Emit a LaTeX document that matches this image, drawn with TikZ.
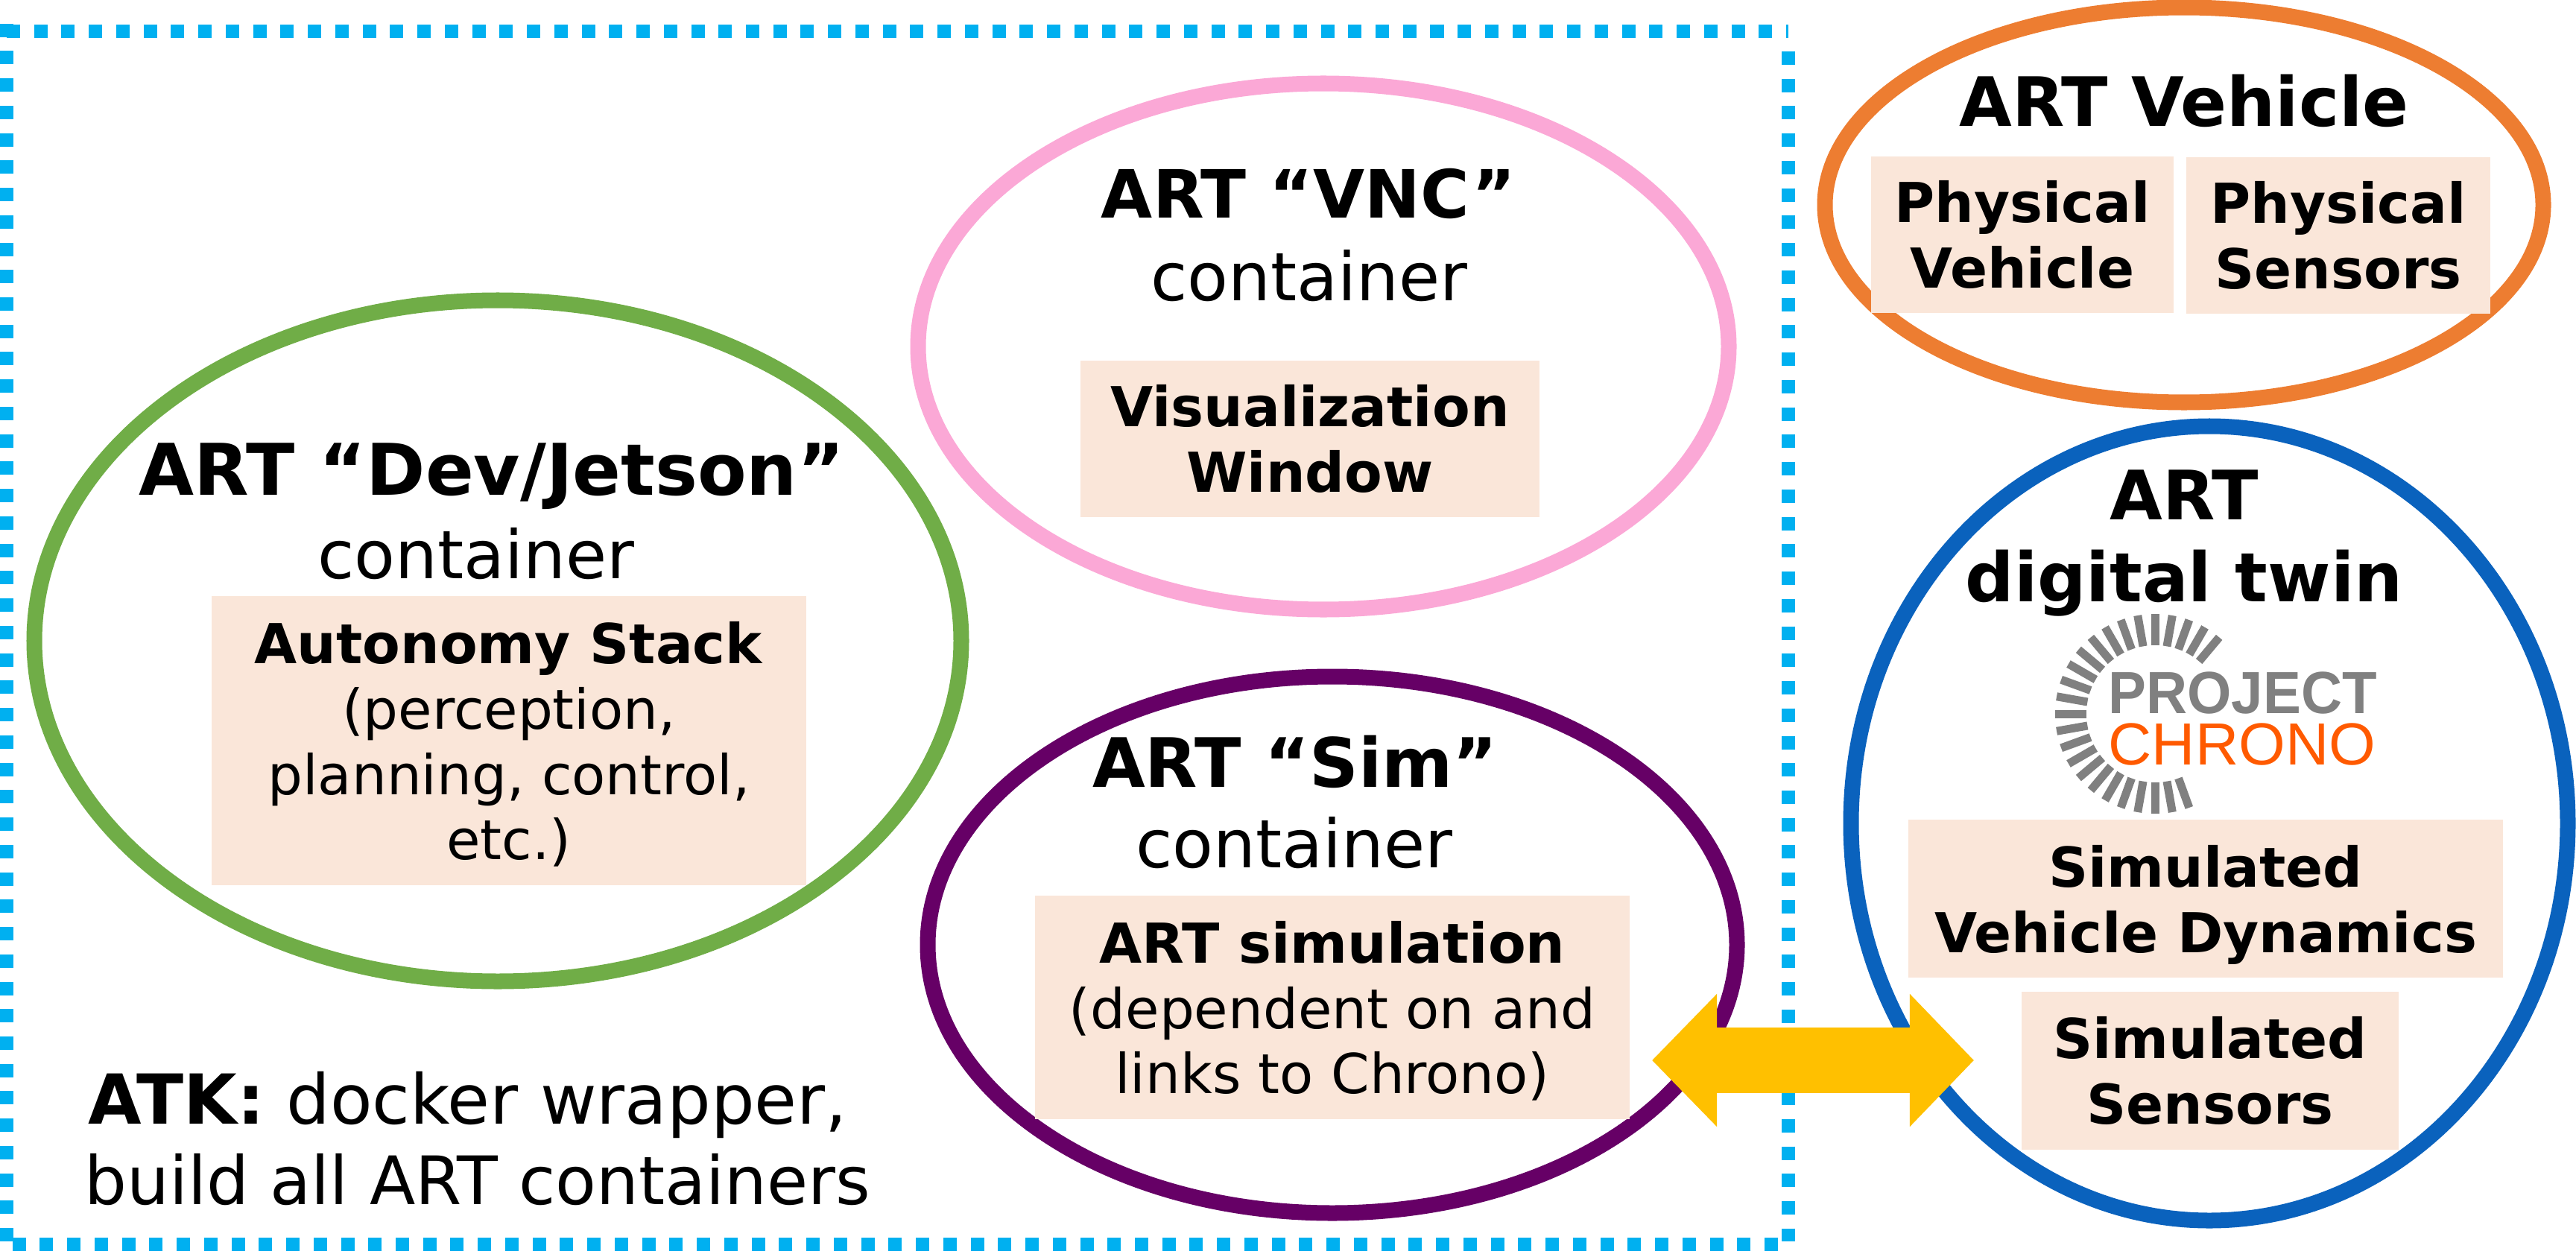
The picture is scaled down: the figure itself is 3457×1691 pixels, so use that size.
\documentclass[tikz,border=0pt]{standalone}
\usepackage{fontspec}
\setmainfont{DejaVu Sans}
\newfontfamily\logofont{Liberation Sans}
\usepackage{tikz}
\usetikzlibrary{calc,arrows.meta}
\definecolor{ringgreen}{HTML}{70AD47}
\definecolor{ringpink}{HTML}{FBA8D6}
\definecolor{ringpurple}{HTML}{660066}
\definecolor{ringorange}{HTML}{ED7D31}
\definecolor{ringblue}{HTML}{0A62BD}
\definecolor{dotblue}{HTML}{00B0F0}
\definecolor{boxpeach}{HTML}{FAE6D9}
\definecolor{arrowgold}{HTML}{FFC000}
\definecolor{logogray}{HTML}{808080}
\definecolor{logoorange}{HTML}{FF5A00}

\begin{document}
\begin{tikzpicture}[x=0.01cm, y=-0.01cm,
    ring/.style={line width=0.21cm},
    atkdots/.style={dotblue, line width=0.18cm, dash pattern=on 0.18cm off 0.1872cm},
    stackbox/.style={fill=boxpeach, inner sep=0pt, align=center, font=\fontsize{21}{25}\selectfont},
    heading/.style={anchor=base, inner sep=0pt, font=\fontsize{26}{31}\bfseries},
    plain/.style={anchor=base, inner sep=0pt, font=\fontsize{25.5}{31}\selectfont},
    logotext/.style={anchor=base west, inner sep=0pt, text depth=0pt, text height=16pt, transform shape}]
    \useasboundingbox (0,0) rectangle (3457,1691);
    \coordinate (Cdev) at (668,860);
    \coordinate (Cvnc) at (1776,465);
    \coordinate (Csim) at (1788,1268);
    \coordinate (Cveh) at (2931,275);
    \coordinate (Ctwin) at (2965,1105);
    \coordinate (Clogo) at (2892,958);
    % ATK frame
    \draw[atkdots] (9,42) -- (2400,42);
    \draw[atkdots] (2400,69) -- (2400,1666);
    \draw[atkdots] (2386,1670) -- (9,1670);
    \draw[atkdots] (9,31.6) -- (9,1679);
    % containers
    \draw[ring, ringgreen] (Cdev) ellipse (622 and 457);
    \draw[ring, ringpink] (Cvnc) ellipse (544 and 353);
    \draw[ring, ringpurple] (Csim) ellipse (543 and 360);
    \draw[ring, ringorange] (Cveh) ellipse (482 and 265);
    \draw[ring, ringblue] (Ctwin) ellipse (481 and 533);
    % titles
    \node[heading, font=\fontsize{27.2}{31}\bfseries] (devtitle) at (660,664) {ART “Dev/Jetson”};
    \node[plain] (devsub) at (639,776) {container};
    \node[heading, font=\fontsize{25.4}{31}\bfseries] (vnctitle) at (1756,293) {ART “VNC”};
    \node[plain] (vncsub) at (1757,403) {container};
    \node[heading] (simtitle) at (1738,1056) {ART “Sim”};
    \node[plain] (simsub) at (1737,1164) {container};
    \node[heading] (vehtitle) at (2931,170) {ART Vehicle};
    \node[heading] (twintitle) at (2931,697) {ART};
    \node[heading] (twinsub) at (2931,807) {digital twin};
    \node[plain, font=\fontsize{26.3}{31}\selectfont] (atkone) at (628,1508) {\textbf{ATK:} docker wrapper,};
    \node[plain] (atktwo) at (641,1616) {build all ART containers};
    % boxes
    \node[stackbox, minimum width=7.98cm, minimum height=3.88cm] (stack) at (683,994) {\textbf{Autonomy Stack}\\(perception,\\planning, control,\\\leavevmode\smash{etc.)}};
    \node[stackbox, minimum width=6.15cm, minimum height=2.1cm] (viswin) at (1758,589) {\textbf{Visualization}\\\textbf{Window}};
    \node[stackbox, minimum width=7.98cm, minimum height=3cm] (artsim) at (1788,1352) {\textbf{ART simulation}\\(dependent on and\\\leavevmode\smash{links to Chrono)}};
    \node[stackbox, minimum width=4.06cm, minimum height=2.09cm] (physveh) at (2714,315) {\textbf{Physical}\\\textbf{Vehicle}};
    \node[stackbox, minimum width=4.08cm, minimum height=2.1cm] (physsen) at (3138,316) {\textbf{Physical}\\\textbf{Sensors}};
    \node[stackbox, minimum width=7.97cm, minimum height=2.12cm] (simdyn) at (2960,1206) {\textbf{Simulated}\\\leavevmode\smash{\textbf{Vehicle Dynamics}}};
    \node[stackbox, minimum width=5.05cm, minimum height=2.11cm] (simsen) at (2966,1437) {\textbf{Simulated}\\\textbf{Sensors}};
    % logo
    \foreach \a in {50,60,...,290}
        \draw[logogray, line width=0.11cm] ($(Clogo)+(\a:92 and -92)$) -- ($(Clogo)+(\a:134 and -134)$);
    \node[logotext, xscale=0.955, font=\logofont\fontsize{22.7}{27}\bfseries, text=logogray] (logoa) at (2829,957) {PROJECT};
    \node[logotext, xscale=1.01, font=\logofont\fontsize{22.7}{27}\selectfont, text=logoorange] (logob) at (2829,1026) {CHRONO};
    % link
    \coordinate (linka) at (2217,1423);
    \coordinate (linkb) at (2649,1423);
    \draw[arrowgold, line width=0.87cm, {Triangle[length=0.87cm, width=1.73cm]}-{Triangle[length=0.86cm, width=1.73cm]}] (linka) -- (linkb);
\end{tikzpicture}
\end{document}
